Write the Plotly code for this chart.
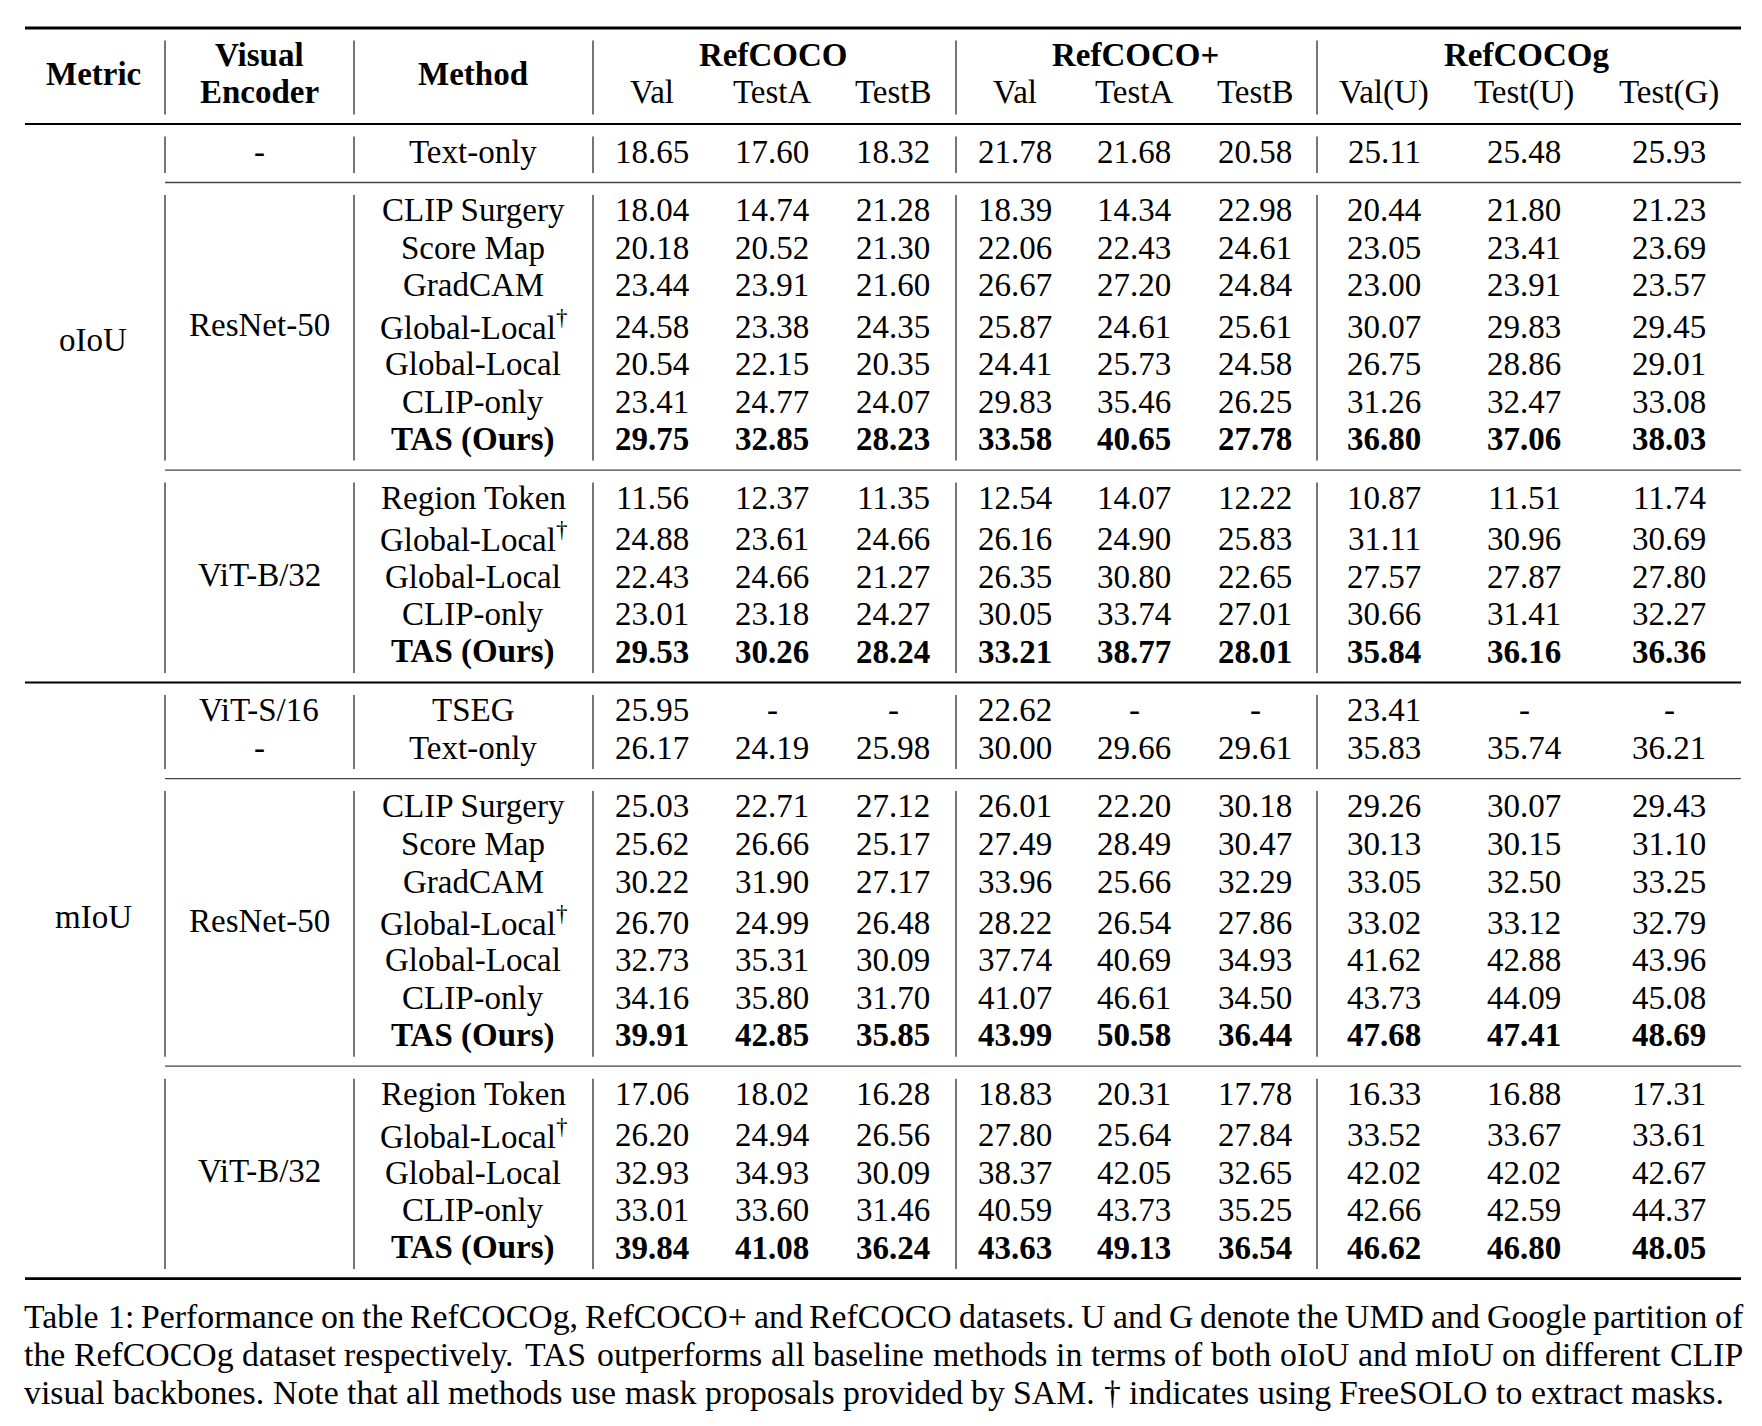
import plotly.graph_objects as go

# ---------------- data ----------------
datasets = ["RefCOCO", "RefCOCO+", "RefCOCOg"]
splits = ["Val", "TestA", "TestB", "Val", "TestA", "TestB", "Val(U)", "Test(U)", "Test(G)"]
header_left = ["Metric", "Visual<br>Encoder", "Method"]
metric_names = ["oIoU", "mIoU"]
metric_rowspan = [11, 12]
best_method = "TAS (Ours)"

rn50_methods = ["CLIP Surgery", "Score Map", "GradCAM", "Global-Local†", "Global-Local", "CLIP-only", "TAS (Ours)"]
vit_methods = ["Region Token", "Global-Local†", "Global-Local", "CLIP-only", "TAS (Ours)"]

oiou_textonly_values = [
    [18.65, 17.60, 18.32, 21.78, 21.68, 20.58, 25.11, 25.48, 25.93],
]
oiou_rn50_values = [
    [18.04, 14.74, 21.28, 18.39, 14.34, 22.98, 20.44, 21.80, 21.23],
    [20.18, 20.52, 21.30, 22.06, 22.43, 24.61, 23.05, 23.41, 23.69],
    [23.44, 23.91, 21.60, 26.67, 27.20, 24.84, 23.00, 23.91, 23.57],
    [24.58, 23.38, 24.35, 25.87, 24.61, 25.61, 30.07, 29.83, 29.45],
    [20.54, 22.15, 20.35, 24.41, 25.73, 24.58, 26.75, 28.86, 29.01],
    [23.41, 24.77, 24.07, 29.83, 35.46, 26.25, 31.26, 32.47, 33.08],
    [29.75, 32.85, 28.23, 33.58, 40.65, 27.78, 36.80, 37.06, 38.03],
]
oiou_vit_values = [
    [11.56, 12.37, 11.35, 12.54, 14.07, 12.22, 10.87, 11.51, 11.74],
    [24.88, 23.61, 24.66, 26.16, 24.90, 25.83, 31.11, 30.96, 30.69],
    [22.43, 24.66, 21.27, 26.35, 30.80, 22.65, 27.57, 27.87, 27.80],
    [23.01, 23.18, 24.27, 30.05, 33.74, 27.01, 30.66, 31.41, 32.27],
    [29.53, 30.26, 28.24, 33.21, 38.77, 28.01, 35.84, 36.16, 36.36],
]
miou_first_methods = ["TSEG", "Text-only"]
miou_first_encoders = ["ViT-S/16", "-"]
miou_first_values = [
    [25.95, None, None, 22.62, None, None, 23.41, None, None],
    [26.17, 24.19, 25.98, 30.00, 29.66, 29.61, 35.83, 35.74, 36.21],
]
miou_rn50_values = [
    [25.03, 22.71, 27.12, 26.01, 22.20, 30.18, 29.26, 30.07, 29.43],
    [25.62, 26.66, 25.17, 27.49, 28.49, 30.47, 30.13, 30.15, 31.10],
    [30.22, 31.90, 27.17, 33.96, 25.66, 32.29, 33.05, 32.50, 33.25],
    [26.70, 24.99, 26.48, 28.22, 26.54, 27.86, 33.02, 33.12, 32.79],
    [32.73, 35.31, 30.09, 37.74, 40.69, 34.93, 41.62, 42.88, 43.96],
    [34.16, 35.80, 31.70, 41.07, 46.61, 34.50, 43.73, 44.09, 45.08],
    [39.91, 42.85, 35.85, 43.99, 50.58, 36.44, 47.68, 47.41, 48.69],
]
miou_vit_values = [
    [17.06, 18.02, 16.28, 18.83, 20.31, 17.78, 16.33, 16.88, 17.31],
    [26.20, 24.94, 26.56, 27.80, 25.64, 27.84, 33.52, 33.67, 33.61],
    [32.93, 34.93, 30.09, 38.37, 42.05, 32.65, 42.02, 42.02, 42.67],
    [33.01, 33.60, 31.46, 40.59, 43.73, 35.25, 42.66, 42.59, 44.37],
    [39.84, 41.08, 36.24, 43.63, 49.13, 36.54, 46.62, 46.80, 48.05],
]

caption_lines = [
    "Table 1: Performance on the RefCOCOg, RefCOCO+ and RefCOCO datasets. U and G denote the UMD and Google partition of",
    "the RefCOCOg dataset respectively. TAS outperforms all baseline methods in terms of both oIoU and mIoU on different CLIP",
    "visual backbones. Note that all methods use mask proposals provided by SAM. † indicates using FreeSOLO to extract masks.",
]

# blocks: (metric index, encoder labels, encoder spans block?, methods, values)
blocks = [
    (0, ["-"], True, ["Text-only"], oiou_textonly_values),
    (0, ["ResNet-50"], True, rn50_methods, oiou_rn50_values),
    (0, ["ViT-B/32"], True, vit_methods, oiou_vit_values),
    (1, miou_first_encoders, False, miou_first_methods, miou_first_values),
    (1, ["ResNet-50"], True, rn50_methods, miou_rn50_values),
    (1, ["ViT-B/32"], True, vit_methods, miou_vit_values),
]

# ---------------- layout constants ----------------
W, H = 1762, 1426
PAGE_MARGIN = 8       # default <body> margin of the html page
FONT = "Liberation Serif"
FS = 33
CAP_FS = 33.8
TXT_DY = -0.8         # visual centering offset for annotation text
rule_left, rule_right = 25, 1741
col_lines = [165, 354, 593, 956, 1317]
left_centers = [93, 259, 473]
value_centers = [652, 772, 893, 1015, 1134, 1255, 1384, 1524, 1669]
top_rule_y = 28
group_y, split_y = 56, 93
header_rule_y = 124
first_off, last_off, pitch, dagger_extra = 28.5, 30.0, 37.6, 3.5
dagger_text_dy = -1.5
vgap_top, vgap_bot = 12.5, 9.5
cap_left, cap_right = 22, 1741
cap_first_off, cap_pitch = 38.5, 38.0

annotations = []
shapes = []


def add_text(x, y, text, size=FS, bold=False, xanchor="center"):
    if bold:
        text = "<b>" + text + "</b>"
    annotations.append(dict(
        x=x, y=y + TXT_DY, xref="x", yref="y", text=text, showarrow=False,
        xanchor=xanchor, yanchor="middle",
        font=dict(family=FONT, size=size, color="black"),
    ))


def hline(y, x0, x1, width, color="black"):
    shapes.append(dict(type="line", xref="x", yref="y", x0=x0, x1=x1, y0=y, y1=y,
                       line=dict(color=color, width=width)))


def vsegs(y0, y1):
    for x in col_lines:
        shapes.append(dict(type="line", xref="x", yref="y", x0=x, x1=x, y0=y0, y1=y1,
                           line=dict(color="#1a1a1a", width=1.2)))


def fmt_method(m):
    if m.endswith("†"):
        return m[:-1] + "<sup>†</sup>"
    return m


# ---------------- header ----------------
hline(top_rule_y, rule_left, rule_right, 2.8)
add_text(left_centers[0], (group_y + split_y) / 2, header_left[0], bold=True)
add_text(left_centers[1], group_y, header_left[1].split("<br>")[0], bold=True)
add_text(left_centers[1], split_y, header_left[1].split("<br>")[1], bold=True)
add_text(left_centers[2], (group_y + split_y) / 2, header_left[2], bold=True)
for g, name in enumerate(datasets):
    xs = value_centers[3 * g:3 * g + 3]
    add_text((xs[0] + xs[-1]) / 2, group_y, name, bold=True)
for j, s in enumerate(splits):
    add_text(value_centers[j], split_y, s)
vsegs(top_rule_y + vgap_top, header_rule_y - vgap_bot)
hline(header_rule_y, rule_left, rule_right, 1.8)

# ---------------- body ----------------
y = header_rule_y
metric_first_row = {}
for b, (mi, encs, spans, methods, values) in enumerate(blocks):
    start = y
    ys = []
    cur = start + first_off
    for i, m in enumerate(methods):
        if i > 0:
            cur += pitch
        if m.endswith("†"):
            cur += dagger_extra
        ys.append(cur)
    end = cur + last_off
    metric_first_row.setdefault(mi, ys[0])

    if spans:
        add_text(left_centers[1], (ys[0] + ys[-1]) / 2, encs[0])
    else:
        for i, e in enumerate(encs):
            add_text(left_centers[1], ys[i], e)
    for i, m in enumerate(methods):
        bold = (m == best_method)
        ty = ys[i] + (dagger_text_dy if m.endswith("†") else 0)
        add_text(left_centers[2], ty, fmt_method(m), bold=bold)
        for j, v in enumerate(values[i]):
            txt = "-" if v is None else f"{v:.2f}"
            add_text(value_centers[j], ys[i], txt, bold=bold)

    vsegs(start + vgap_top, end - vgap_bot)
    if b == len(blocks) - 1:
        hline(end, rule_left, rule_right, 2.8)
    elif blocks[b + 1][0] != mi:
        hline(end, rule_left, rule_right, 1.8)
    else:
        hline(end, col_lines[0], rule_right, 1.3, color="#444444")
    y = end

bottom_rule_y = y
for mi, name in enumerate(metric_names):
    add_text(left_centers[0], metric_first_row[mi] + (metric_rowspan[mi] - 1) / 2 * pitch, name)

# ---------------- caption (justified) ----------------
TIMES_W = {" ": 250, "!": 333, "(": 333, ")": 333, "+": 564, ",": 250, "-": 333, ".": 250,
           "/": 278, ":": 278, "†": 500,
           "A": 722, "B": 667, "C": 667, "D": 722, "E": 611, "F": 556, "G": 722, "H": 722,
           "I": 333, "J": 389, "K": 722, "L": 611, "M": 889, "N": 722, "O": 722, "P": 556,
           "Q": 722, "R": 667, "S": 556, "T": 611, "U": 722, "V": 722, "W": 944, "X": 722,
           "Y": 722, "Z": 611,
           "a": 444, "b": 500, "c": 444, "d": 500, "e": 444, "f": 333, "g": 500, "h": 500,
           "i": 278, "j": 278, "k": 500, "l": 278, "m": 778, "n": 500, "o": 500, "p": 500,
           "q": 500, "r": 333, "s": 389, "t": 278, "u": 500, "v": 500, "w": 722, "x": 500,
           "y": 500, "z": 444}


def word_w(w):
    return sum(TIMES_W.get(c, 500) for c in w) / 1000.0 * CAP_FS


for li, line in enumerate(caption_lines):
    cy = bottom_rule_y + cap_first_off + li * cap_pitch
    words = line.split(" ")
    widths = [word_w(w) for w in words]
    space = 0.25 * CAP_FS
    if li < len(caption_lines) - 1:
        gap = (cap_right - cap_left - sum(widths)) / (len(words) - 1)
    else:
        gap = space
    x = cap_left
    for w, wd in zip(words, widths):
        add_text(x, cy, w, size=CAP_FS, xanchor="left")
        x += wd + gap

fig = go.Figure()
fig.update_layout(
    width=W - PAGE_MARGIN, height=H - PAGE_MARGIN,
    margin=dict(l=0, r=0, t=0, b=0),
    paper_bgcolor="white", plot_bgcolor="white",
    xaxis=dict(range=[PAGE_MARGIN, W], visible=False, fixedrange=True),
    yaxis=dict(range=[H, PAGE_MARGIN], visible=False, fixedrange=True),
    annotations=annotations,
    shapes=shapes,
    showlegend=False,
)
fig.write_html("out.html")
